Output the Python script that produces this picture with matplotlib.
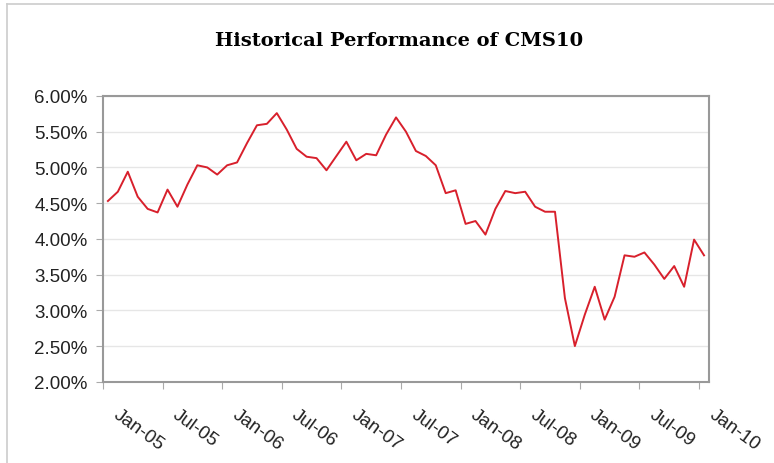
import numpy as np
import matplotlib
matplotlib.use("Agg")
import matplotlib.pyplot as plt
from matplotlib.lines import Line2D
from matplotlib.transforms import ScaledTranslation

# CMS10 monthly levels, Jan-05 .. Jan-10 (percent)
cms10 = [4.53, 4.66, 4.94, 4.59, 4.42, 4.37, 4.69, 4.45, 4.76, 5.03, 5.00,
         4.90, 5.03, 5.07, 5.34, 5.59, 5.61, 5.76, 5.53, 5.26, 5.15,
         5.13, 4.96, 5.16, 5.36, 5.10, 5.19, 5.17, 5.46, 5.70, 5.50,
         5.23, 5.16, 5.03, 4.64, 4.68, 4.21, 4.25, 4.06, 4.42, 4.67,
         4.64, 4.66, 4.45, 4.38, 4.38, 3.17, 2.50, 2.94, 3.33, 2.87,
         3.19, 3.77, 3.75, 3.81, 3.64, 3.44, 3.62, 3.33, 3.99, 3.77]
tick_labels = ["Jan-05", "Jul-05", "Jan-06", "Jul-06", "Jan-07", "Jul-07",
               "Jan-08", "Jul-08", "Jan-09", "Jul-09", "Jan-10"]
y_ticks = [2.0, 2.5, 3.0, 3.5, 4.0, 4.5, 5.0, 5.5, 6.0]

plt.rcParams['font.family'] = ['Liberation Sans', 'DejaVu Sans']

fig = plt.figure(figsize=(7.74, 4.64), dpi=100)
ax = fig.add_axes([0.133, 0.175, 0.783, 0.616])

months = np.arange(len(cms10))
ax.plot(months, cms10, color='#d8202c', lw=1.4)

ax.set_xlim(-0.5, len(cms10) - 0.5)
ax.set_ylim(2.0, 6.0)
ax.set_yticks(y_ticks)
ax.set_yticklabels([f"{v:.2f}%" for v in y_ticks], fontsize=13.5, color='#222222')
ax.set_xticks(np.arange(0, len(cms10), 6) - 0.5)
ax.set_xticklabels(tick_labels, fontsize=13.5, rotation=-36, ha='left',
                   va='center', rotation_mode='anchor', color='#222222')
ax.tick_params(axis='x', pad=17, length=5, color='#aaaaaa')
ax.tick_params(axis='y', pad=6, length=5, color='#aaaaaa')

# push the date labels a bit to the right of their ticks
shift = ScaledTranslation(12 / 100, 0, fig.dpi_scale_trans)
for lab in ax.get_xticklabels():
    lab.set_transform(lab.get_transform() + shift)

ax.grid(axis='y', color='#e6e6e6', lw=1)
ax.set_axisbelow(True)
for s in ax.spines.values():
    s.set_color('#999999')
    s.set_linewidth(1.5)

fig.text(0.516, 0.912, "Historical Performance of CMS10", ha='center', va='center',
         fontsize=14, fontweight='bold', family='DejaVu Serif')

# chart area border (top and left edges visible in the crop)
fig.add_artist(Line2D([7 / 774, 1], [1 - 5 / 464, 1 - 5 / 464], color='#cccccc', lw=1.2))
fig.add_artist(Line2D([7 / 774, 7 / 774], [0, 1 - 5 / 464], color='#cccccc', lw=1.2))

fig.savefig("out.png", dpi=100)
